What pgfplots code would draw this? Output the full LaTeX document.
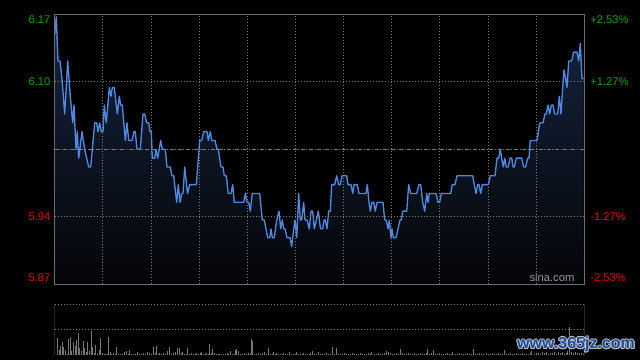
\documentclass[border=0pt]{standalone}
\usepackage{fontspec}
\setmainfont{Liberation Sans}
\usepackage{pgfplots}
\pgfplotsset{compat=1.18}
\usepackage{pgfplotstable}
\definecolor{gup}{RGB}{0,160,0}
\definecolor{gdn}{RGB}{230,0,0}
\definecolor{framec}{RGB}{110,110,110}
\definecolor{gridc}{RGB}{125,125,125}
\definecolor{linec}{RGB}{78,138,228}
\definecolor{fillt}{RGB}{22,36,62}
\definecolor{fillb}{RGB}{4,5,8}
\definecolor{volc}{RGB}{120,120,120}
\definecolor{wmblue}{RGB}{30,75,150}
\definecolor{wmedge}{RGB}{190,195,205}

\pgfplotstableread{
x p
54.7 6.15
56.3 6.17
58.0 6.12
60.0 6.12
62.0 6.10
64.7 6.06
67.7 6.12
70.3 6.08
72.7 6.05
74.0 6.07
76.0 6.02
77.3 6.04
78.7 6.01
82.0 6.04
84.7 6.02
88.7 6.00
90.7 6.00
94.7 6.05
96.7 6.05
98.0 6.04
99.7 6.05
101.3 6.04
103.0 6.04
104.3 6.07
106.3 6.05
109.3 6.09
111.0 6.08
112.3 6.09
114.3 6.09
117.3 6.06
119.3 6.08
120.7 6.07
122.3 6.07
125.3 6.03
127.0 6.05
128.7 6.03
132.0 6.03
134.0 6.04
135.3 6.04
137.0 6.02
140.3 6.02
143.0 6.06
144.7 6.06
146.7 6.05
148.7 6.05
150.0 6.04
151.3 6.04
152.3 6.01
154.7 6.01
156.0 6.02
157.7 6.01
160.7 6.03
162.3 6.02
165.3 6.02
167.0 6.00
170.3 6.00
172.0 5.99
173.7 5.99
176.7 5.96
178.3 5.98
180.0 5.96
181.7 5.97
183.0 5.97
184.7 6.00
187.5 5.97
189.7 5.98
196.3 5.98
199.7 6.03
201.7 6.03
203.7 6.04
207.0 6.04
208.3 6.03
210.3 6.04
211.7 6.03
215.0 6.03
217.0 6.02
218.3 6.02
221.0 6.00
223.0 6.00
224.3 5.99
226.3 5.99
228.3 5.97
231.0 5.97
232.7 5.98
234.3 5.96
243.7 5.96
245.3 5.97
247.0 5.96
248.7 5.96
250.3 5.95
252.3 5.97
259.7 5.97
262.3 5.94
264.3 5.94
267.7 5.92
269.7 5.92
271.0 5.93
272.3 5.92
274.3 5.92
276.7 5.94
279.0 5.95
280.7 5.93
282.3 5.94
283.7 5.93
285.0 5.93
287.0 5.92
290.0 5.92
291.7 5.91
293.7 5.93
295.0 5.94
296.7 5.92
298.7 5.97
300.3 5.94
301.7 5.94
303.7 5.96
305.0 5.94
307.0 5.94
309.3 5.93
311.0 5.95
312.7 5.95
314.3 5.93
316.3 5.94
318.3 5.95
320.5 5.93
322.7 5.93
324.0 5.94
325.3 5.94
327.0 5.93
328.7 5.95
330.3 5.95
331.7 5.98
334.7 5.98
336.7 5.99
338.7 5.98
340.3 5.98
342.0 5.99
346.7 5.99
348.0 5.98
351.0 5.98
352.7 5.97
354.0 5.98
357.3 5.98
359.0 5.97
366.0 5.97
367.3 5.98
369.0 5.96
370.3 5.95
372.0 5.96
373.7 5.96
375.3 5.95
377.0 5.96
383.0 5.96
384.7 5.94
386.3 5.94
388.0 5.93
389.3 5.94
391.0 5.92
392.0 5.93
393.3 5.92
396.0 5.92
398.0 5.93
400.0 5.94
401.3 5.94
402.7 5.95
406.7 5.95
408.7 5.98
410.7 5.97
416.7 5.97
419.0 5.98
420.7 5.98
422.7 5.96
424.7 5.95
426.7 5.97
428.0 5.96
429.3 5.97
436.0 5.97
438.0 5.96
439.7 5.96
441.3 5.97
450.7 5.97
452.3 5.98
455.0 5.98
457.0 5.99
472.7 5.99
474.3 5.98
476.0 5.97
477.7 5.98
479.0 5.98
480.7 5.97
482.3 5.98
488.3 5.98
490.3 5.99
495.0 5.99
497.0 6.01
498.7 6.01
500.3 6.02
501.7 6.01
503.3 6.00
504.7 6.01
506.3 6.00
508.3 6.00
510.0 6.01
511.7 6.01
513.0 6.00
514.3 6.00
516.3 6.01
521.7 6.01
523.7 6.00
525.7 6.00
527.7 6.01
529.0 6.01
530.3 6.03
537.0 6.03
539.7 6.05
543.0 6.05
545.0 6.06
546.3 6.06
548.0 6.07
549.7 6.06
551.3 6.07
553.0 6.07
554.7 6.06
557.7 6.06
559.3 6.08
561.0 6.06
562.7 6.09
564.0 6.11
565.7 6.10
567.0 6.09
568.7 6.12
571.7 6.12
573.7 6.13
577.0 6.13
578.7 6.12
580.3 6.14
582.0 6.10
583.7 6.10
}\price

\pgfplotstableread{
x v
57.3 17.3
59.3 5
60.3 9.3
62.3 13.3
63.3 7.7
65.3 5
67.3 1
68.3 16.3
70.3 18.3
71.3 4.3
73.3 13.3
75.3 9.3
76.3 15.3
78.3 22.3
79.3 6.7
81.3 4.3
83.3 14.3
84.3 7
86.3 2.7
87.3 13.3
89.3 4
91.3 24.3
92.3 7.7
94.3 1.7
95.3 10.3
97.3 1
99.3 5
100.3 17.3
102.3 1.7
104.5 1
105.5 1
107 1.2
108.3 18.3
110.3 3.3
111.5 1
113.3 2.3
115 1
116.3 8.3
118.3 1
120 1.3
122 1
124.3 2.7
126.3 4.3
128 1
129.3 5.3
131 1
133 1.2
135 1
137.3 3.3
139 1
141 1.2
143.3 1.7
145 1
147.3 2.7
149 1.5
151 1
153.3 8.3
155 1.5
156.3 9.3
158 1
159.3 1.7
161 1
163.3 2.3
165 1
167.3 4.3
169.3 8.3
171 1
173.3 2.3
175 3.3
177.3 7.3
179.3 7.3
181 1.5
182.3 3.3
184 1
186 1.2
187.3 7.3
189 1
191.3 1.7
193 1
195 1.2
196.3 1.7
198 1
200 1.5
201.3 3.3
203 1
205 1.2
206.3 1.7
208 1
209.3 11.3
211 1.5
212.3 6.3
214.3 2.3
216 1
218 1
219.3 1
221 1.2
223 1
225 1
227 1.5
228.3 1
230.3 4.3
232 1
234 1.2
235.3 5.3
236.3 6
238.3 3.7
240 1
242 1.2
244.3 1.7
246 1
248.3 1.7
250 1
251.3 16.3
252.3 13.7
254 1
256 1.2
258.3 1.7
260 1
262.3 2.3
264.3 3.3
266 1
268.3 7.3
270 1
272 1.2
273.3 3.3
275 1
276.3 2.3
278 1
280 1.2
282 1
283.3 2.3
285 1
287 1.2
289.3 3.3
291 1
293 1.2
295 1
296.3 3.3
298 1
300 1.2
302 1
303.3 1.7
305 1
307 1.2
309 1
310.3 1.7
312.3 4.3
314 1
316 1.2
318.3 3.3
320 1
322 1.2
324 1
326 1.5
328 1
330 1.2
332.7 8.3
334 1
336.7 7
338 1
340 1.2
342 1
344 1.5
346 1
348 1.2
350 1
352 1.5
354 1
356 1.2
358 1
360 1.5
362 1
364 1.2
366 1
368 1.5
370 1
371.7 3.3
374 1
376 1.2
378 1.5
380 1
382 1.2
384 1.5
386 4.3
388.3 3.3
390 1.5
392 1
394 1.2
396 1.5
398 1
400 6
402 1.5
404 1
406 1.2
408 1.5
410 1
412 1.2
414 1.5
416 1
418 1.2
420 1.5
422 1
424 1.2
426 1.5
427.3 6
429 1
431 1.5
433.3 5
435 1
437 1.2
439 1.5
441 1
443 1.2
445 1
447 1.5
449 1
451 1.2
452.7 3.3
455 1
457 1.2
459 1.5
461 1
463 1.2
465 1
467 1.5
469 1
471 1.2
473.3 6
475 1
477 1.2
479 1.5
481 1
483 1.2
486 2.3
488 1
490 1.2
492 1.5
494 1
496 1.2
498 1.5
500 1
502 1.2
504.3 5
506 1
508 1.2
510 1.5
512 1
514 1.2
516 1.5
518 1
520 1.2
522 1.5
524 1
526 1.2
528 1
530 1.5
531.7 4
534 1.2
536 1.5
538 2
540 1.2
542 2.5
544 1.5
546 3
548 1.2
550 2
552 1.5
554 3
556 1.2
558 2.5
560 1.5
562 3
564 1.2
566 2
567.5 3.5
569.3 27.7
571 3
573 2
575 2.5
577 1.5
579 2
581 1.5
583 1
}\volume

\begin{document}
\begin{tikzpicture}
\path[use as bounding box, fill=black] (0,0) rectangle (480pt,-270pt);
% ---------- price panel ----------
\begin{axis}[
  at={(41.025pt,-10.725pt)}, anchor=north west,
  width=397.2pt, height=202.5pt, scale only axis,
  xmin=54.7, xmax=584.3, ymin=5.8672, ymax=6.1728,
  axis on top,
  axis line style={draw=framec, line width=0.75pt},
  xtick={102.85,151,199.15,247.3,295.45,343.6,391.75,439.9,488.05,536.2},
  xticklabels={}, xmajorgrids,
  ytick={5.9436,6.0964},
  yticklabels={\mbox{\textcolor{gdn}{5.94}},\mbox{\textcolor{gup}{6.10}}},
  ymajorgrids,
  extra y ticks={5.8748,6.1668},
  extra y tick labels={\mbox{\textcolor{gdn}{5.87}},\mbox{\textcolor{gup}{6.17}}},
  extra y tick style={grid=none},
  major tick length=0pt,
  grid style={draw=gridc, line width=0.75pt, dash pattern=on 0.75pt off 1.5pt},
  yticklabel style={font=\fontsize{8.4pt}{10pt}\selectfont, inner sep=0pt, anchor=east, xshift=-3pt},
]
\addplot[draw=none, top color=fillt, bottom color=fillb] table[x=x,y=p] {\price}
   -- (axis cs:583.7,5.8672) -- (axis cs:54.7,5.8672) -- cycle;
\draw[gridc, line width=0.75pt, dash pattern=on 3pt off 1.2pt on 0.75pt off 1.2pt]
   (axis cs:54.7,6.02) -- (axis cs:584.3,6.02);
\addplot[linec, line width=1pt, line join=round] table[x=x,y=p] {\price};
\node[font=\fontsize{8.4pt}{10pt}\selectfont, text=gray!80] at (axis cs:552,5.8745) {sina.com};
\end{axis}
% ---------- right percent labels ----------
\begin{axis}[
  at={(41.025pt,-10.725pt)}, anchor=north west,
  width=397.2pt, height=202.5pt, scale only axis,
  xmin=54.7, xmax=584.3, ymin=5.8672, ymax=6.1728,
  hide x axis, axis y line*=right, axis line style={draw=none},
  ytick={5.8748,5.9436,6.0964,6.1668},
  yticklabels={\mbox{\textcolor{gdn}{-2.53\%}},\mbox{\textcolor{gdn}{-1.27\%}},\mbox{\textcolor{gup}{+1.27\%}},\mbox{\textcolor{gup}{+2.53\%}}},
  major tick length=0pt,
  yticklabel style={font=\fontsize{8.4pt}{10pt}\selectfont, inner sep=0pt, anchor=west, xshift=4.3pt},
]
\addplot[draw=none] coordinates {(300,6.0)};
\end{axis}
% ---------- volume panel ----------
\begin{axis}[
  at={(41.025pt,-228.225pt)}, anchor=north west,
  width=397.2pt, height=38.025pt, scale only axis,
  xmin=54.7, xmax=584.3, ymin=0, ymax=50.7,
  axis line style={draw=none},
  xtick=\empty, ytick={25.3,50.7}, yticklabels={}, ymajorgrids,
  major tick length=0pt,
  grid style={draw=gridc, line width=0.75pt, dash pattern=on 0.75pt off 1.5pt},
]
\addplot[ycomb, draw=volc, line width=0.75pt] table[x=x,y=v] {\volume};
\draw[framec, line width=0.75pt] (rel axis cs:0,0) -- (rel axis cs:0,1);
\draw[framec, line width=0.75pt] (rel axis cs:1,0) -- (rel axis cs:1,1);
\end{axis}
% ---------- watermark ----------
\foreach \dx/\dy in {0.7/0,-0.7/0,0/0.7,0/-0.7,0.5/0.5,-0.5/-0.5,0.5/-0.5,-0.5/0.5}
  \node[font=\bfseries\fontsize{12pt}{12pt}\selectfont, text=wmedge] at ([xshift=\dx pt, yshift=\dy pt]432pt,-258.5pt) {www.365jz.com};
\node[font=\bfseries\fontsize{12pt}{12pt}\selectfont, text=wmblue] at (432pt,-258.5pt) {www.365jz.com};
\end{tikzpicture}
\end{document}
